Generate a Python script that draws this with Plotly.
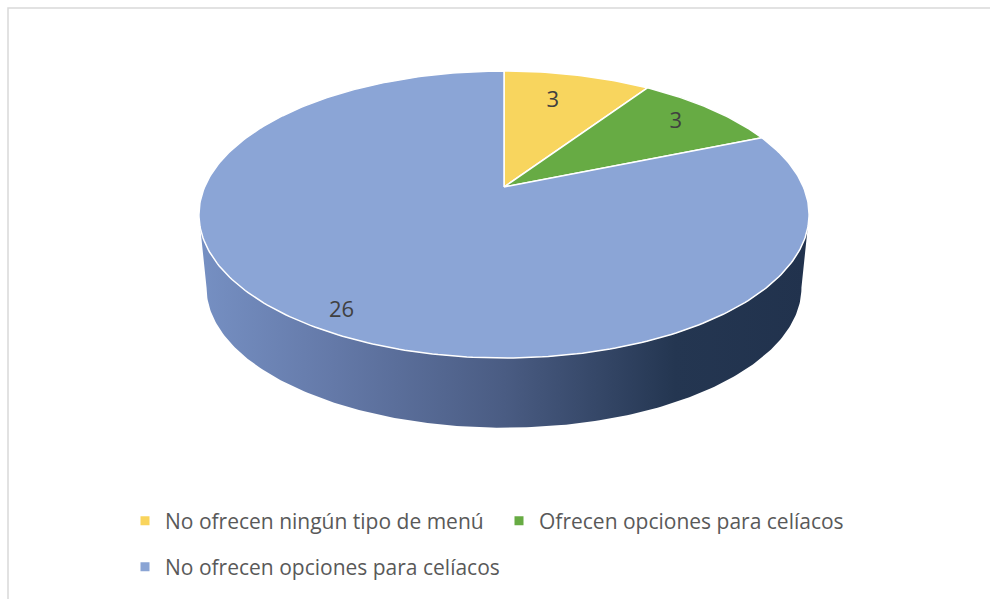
import numpy as np
import plotly.graph_objects as go

# ---- data ----
categories = [
    "No ofrecen ningún tipo de menú",
    "Ofrecen opciones para celíacos",
    "No ofrecen opciones para celíacos",
]
values = [3, 3, 26]
slice_colors = ["#F8D55E", "#67AB44", "#8BA5D6"]
legend_colors = ["#F9D45C", "#67AB43", "#8AA4D4"]

# ---- 3D disc projection (perspective view of a tilted cylinder) ----
W, H = 990, 599
CX, CY = 504, 187          # pie centre on screen
A, B, K = 299.4, 138.2, 0.1917
DROP, SHRINK = 74, 0.975    # depth of the cylinder side
LABEL_R = [0.73, 0.81, 0.895]            # label distance from centre (fraction of radius)
LABEL_DPHI = np.radians([-2.2, 0.4, -2.6])  # small angular nudge for each label


def top_xy(phi, r=1.0):
    """phi in radians, clockwise from 12 o'clock; returns screen coords on top face."""
    u, v = r * np.sin(phi), -r * np.cos(phi)
    s = 1.0 / (1.0 - K * v)
    return CX + A * u * s, CY + B * v * s


def bottom_xy(phi):
    x, y = top_xy(phi)
    return CX + SHRINK * (x - CX), CY + DROP + SHRINK * (y - CY)


total = float(sum(values))
bounds = np.concatenate([[0.0], np.cumsum(values) / total * 2 * np.pi])

fig = go.Figure()

# visible side wall of the cylinder (front half)
phi_r = np.arccos(-K)
phi_l = 2 * np.pi - phi_r
arc = np.linspace(phi_r, phi_l, 200)
tx, ty = top_xy(arc)
bx, by = bottom_xy(arc[::-1])
fig.add_trace(go.Scatter(
    x=np.concatenate([tx, bx, tx[:1]]),
    y=np.concatenate([ty, by, ty[:1]]),
    mode="lines", fill="toself",
    line=dict(width=0),
    fillgradient=dict(
        type="horizontal",
        colorscale=[[0.0, "#7690C3"], [0.22, "#6479A8"], [0.5, "#4A5C83"],
                    [0.78, "#243651"], [1.0, "#21324D"]],
    ),
    hoverinfo="skip", showlegend=False,
))

# top face slices
for i, val in enumerate(values):
    a0, a1 = bounds[i], bounds[i + 1]
    n = max(int((a1 - a0) / (2 * np.pi) * 400), 20)
    ph = np.linspace(a0, a1, n)
    ax_, ay_ = top_xy(ph)
    xs = np.concatenate([[CX], ax_, [CX]])
    ys = np.concatenate([[CY], ay_, [CY]])
    fig.add_trace(go.Scatter(
        x=xs, y=ys, mode="lines", fill="toself",
        fillcolor=slice_colors[i],
        line=dict(color="white", width=1.5),
        hoverinfo="skip", showlegend=False,
    ))

# data labels
mids = (bounds[:-1] + bounds[1:]) / 2 + LABEL_DPHI
lx, ly = top_xy(mids, np.array(LABEL_R))
fig.add_trace(go.Scatter(
    x=lx, y=ly, mode="text",
    text=[str(v) for v in values],
    textfont=dict(family="Open Sans", size=22, color="#404040"),
    hoverinfo="skip", showlegend=False,
))

# legend entries
legend_ids = ["legend", "legend", "legend2"]
for i, cat in enumerate(categories):
    fig.add_trace(go.Scatter(
        x=[None], y=[None], mode="markers", name=cat,
        marker=dict(symbol="square", size=9, color=legend_colors[i]),
        legend=legend_ids[i],
    ))

legend_font = dict(family="Open Sans", size=21, color="#595959")
fig.update_layout(
    width=W, height=H,
    margin=dict(l=0, r=0, t=0, b=0),
    paper_bgcolor="white", plot_bgcolor="white",
    xaxis=dict(range=[0, W], visible=False, fixedrange=True),
    yaxis=dict(range=[H, 0], visible=False, fixedrange=True),
    hovermode=False,
    legend=dict(
        orientation="h", x=125 / W, xanchor="left",
        y=1 - 521 / H, yanchor="middle",
        entrywidth=329, font=legend_font, bgcolor="rgba(0,0,0,0)",
        itemclick=False, itemdoubleclick=False,
    ),
    legend2=dict(
        orientation="h", x=125 / W, xanchor="left",
        y=1 - 567 / H, yanchor="middle",
        font=legend_font, bgcolor="rgba(0,0,0,0)",
        itemclick=False, itemdoubleclick=False,
    ),
    shapes=[dict(
        type="rect", xref="paper", yref="paper",
        x0=8 / W, x1=1.02, y0=-0.02, y1=1 - 8 / H,
        line=dict(color="#D9D9D9", width=1.5), layer="below",
    )],
)

fig.write_html("out.html", config={"displayModeBar": False})
